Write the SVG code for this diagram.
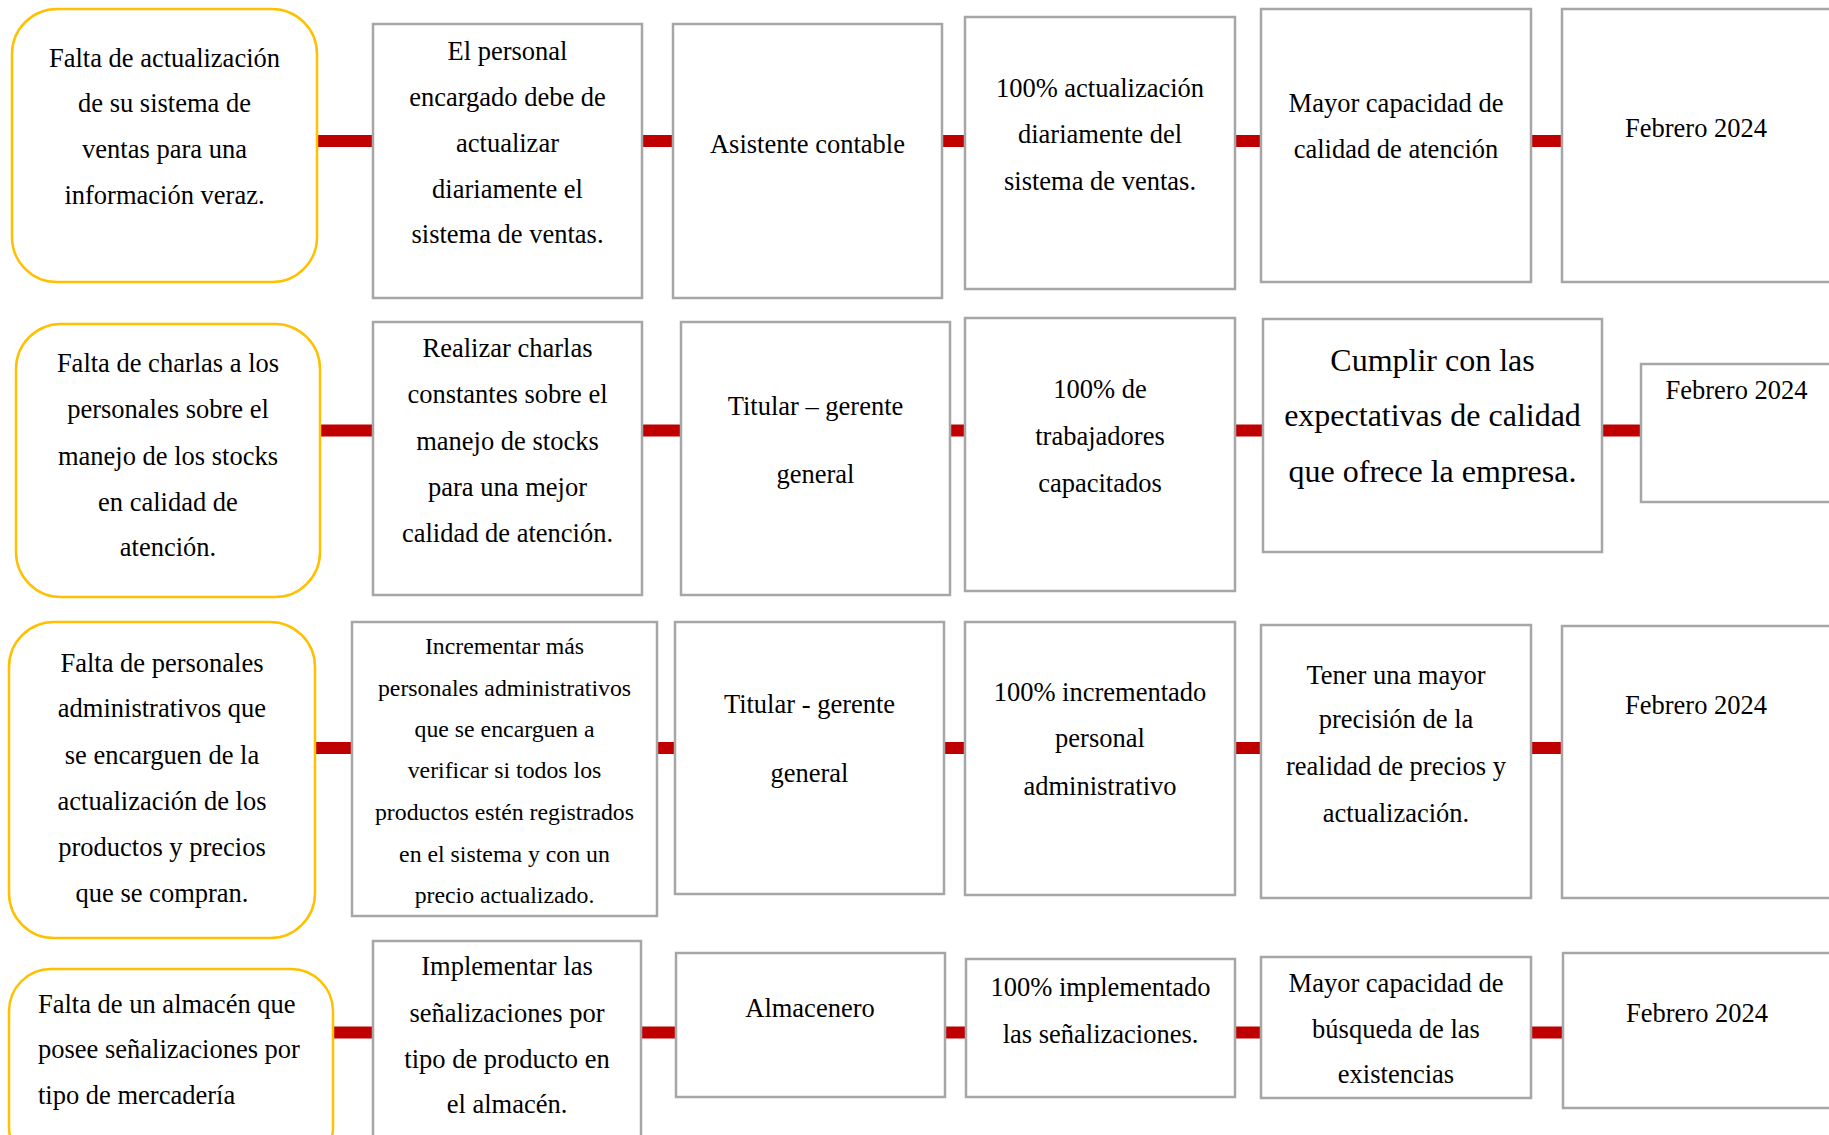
<svg xmlns="http://www.w3.org/2000/svg" width="1829" height="1135" viewBox="0 0 1829 1135">
<style>
.prob{fill:#fff;stroke:#FFC000;stroke-width:2.5}
.box{fill:#fff;stroke:#A6A6A6;stroke-width:2.5}
.conn{fill:#C00000}
text{font-family:"Liberation Serif","Times New Roman",serif;font-size:26.5px;fill:#000;text-anchor:middle}
.big{font-size:32px}
.small{font-size:23.8px}
.left{text-anchor:start}
</style>
<rect width="1829" height="1135" fill="#fff"/>
<g id="connectors">
<rect class="conn" x="317" y="135" width="56" height="12"/>
<rect class="conn" x="642" y="135" width="31" height="12"/>
<rect class="conn" x="942" y="135" width="23" height="12"/>
<rect class="conn" x="1235" y="135" width="26" height="12"/>
<rect class="conn" x="1531" y="135" width="31" height="12"/>
<rect class="conn" x="320" y="424.5" width="53" height="12"/>
<rect class="conn" x="642" y="424.5" width="39" height="12"/>
<rect class="conn" x="950" y="424.5" width="15" height="12"/>
<rect class="conn" x="1235" y="424.5" width="28" height="12"/>
<rect class="conn" x="1602" y="424.5" width="39" height="12"/>
<rect class="conn" x="315" y="742" width="37" height="12"/>
<rect class="conn" x="657" y="742" width="18" height="12"/>
<rect class="conn" x="944" y="742" width="21" height="12"/>
<rect class="conn" x="1235" y="742" width="26" height="12"/>
<rect class="conn" x="1531" y="742" width="31" height="12"/>
<rect class="conn" x="333" y="1026.5" width="40" height="12"/>
<rect class="conn" x="641" y="1026.5" width="35" height="12"/>
<rect class="conn" x="945" y="1026.5" width="21" height="12"/>
<rect class="conn" x="1235" y="1026.5" width="26" height="12"/>
<rect class="conn" x="1531" y="1026.5" width="32" height="12"/>
</g>
<!-- Row 1 -->
<g id="r1-problema">
<rect class="prob" x="12" y="9" width="305" height="273" rx="45" ry="45"/>
<text x="164.5" y="66.5">Falta de actualización<tspan x="164.5" y="112">de su sistema de</tspan><tspan x="164.5" y="158">ventas para una</tspan><tspan x="164.5" y="204">información veraz.</tspan></text>
</g>
<g id="r1-accion">
<rect class="box" x="373" y="24" width="269" height="274"/>
<text x="507.5" y="60">El personal<tspan x="507.5" y="106">encargado debe de</tspan><tspan x="507.5" y="152">actualizar</tspan><tspan x="507.5" y="198">diariamente el</tspan><tspan x="507.5" y="243">sistema de ventas.</tspan></text>
</g>
<g id="r1-responsable">
<rect class="box" x="673" y="24" width="269" height="274"/>
<text x="807.5" y="153">Asistente contable</text>
</g>
<g id="r1-indicador">
<rect class="box" x="965" y="17" width="270" height="272"/>
<text x="1100" y="97">100% actualización<tspan x="1100" y="143">diariamente del</tspan><tspan x="1100" y="190">sistema de ventas.</tspan></text>
</g>
<g id="r1-resultado">
<rect class="box" x="1261" y="9" width="270" height="273"/>
<text x="1396" y="112">Mayor capacidad de<tspan x="1396" y="158">calidad de atención</tspan></text>
</g>
<g id="r1-fecha">
<rect class="box" x="1562" y="9" width="270" height="273"/>
<text x="1696" y="137">Febrero 2024</text>
</g>
<!-- Row 2 -->
<g id="r2-problema">
<rect class="prob" x="16" y="324" width="304" height="273" rx="45" ry="45"/>
<text x="168" y="372">Falta de charlas a los<tspan x="168" y="418">personales sobre el</tspan><tspan x="168" y="465">manejo de los stocks</tspan><tspan x="168" y="511">en calidad de</tspan><tspan x="168" y="556">atención.</tspan></text>
</g>
<g id="r2-accion">
<rect class="box" x="373" y="322" width="269" height="273"/>
<text x="507.5" y="357">Realizar charlas<tspan x="507.5" y="403">constantes sobre el</tspan><tspan x="507.5" y="450">manejo de stocks</tspan><tspan x="507.5" y="496">para una mejor</tspan><tspan x="507.5" y="542">calidad de atención.</tspan></text>
</g>
<g id="r2-responsable">
<rect class="box" x="681" y="322" width="269" height="273"/>
<text x="815.5" y="415">Titular – gerente<tspan x="815.5" y="483">general</tspan></text>
</g>
<g id="r2-indicador">
<rect class="box" x="965" y="318" width="270" height="273"/>
<text x="1100" y="398">100% de<tspan x="1100" y="445">trabajadores</tspan><tspan x="1100" y="492">capacitados</tspan></text>
</g>
<g id="r2-resultado">
<rect class="box" x="1263" y="319" width="339" height="233"/>
<text class="big" x="1432.5" y="371">Cumplir con las<tspan x="1432.5" y="426">expectativas de calidad</tspan><tspan x="1432.5" y="482">que ofrece la empresa.</tspan></text>
</g>
<g id="r2-fecha">
<rect class="box" x="1641" y="364" width="191" height="138"/>
<text x="1736.5" y="399">Febrero 2024</text>
</g>
<!-- Row 3 -->
<g id="r3-problema">
<rect class="prob" x="9" y="622" width="306" height="316" rx="45" ry="45"/>
<text x="162" y="672">Falta de personales<tspan x="162" y="717">administrativos que</tspan><tspan x="162" y="764">se encarguen de la</tspan><tspan x="162" y="810">actualización de los</tspan><tspan x="162" y="856">productos y precios</tspan><tspan x="162" y="902">que se compran.</tspan></text>
</g>
<g id="r3-accion">
<rect class="box" x="352" y="622" width="305" height="294"/>
<text class="small" x="504.5" y="654">Incrementar más<tspan x="504.5" y="696">personales administrativos</tspan><tspan x="504.5" y="737">que se encarguen a</tspan><tspan x="504.5" y="778">verificar si todos los</tspan><tspan x="504.5" y="820">productos estén registrados</tspan><tspan x="504.5" y="862">en el sistema y con un</tspan><tspan x="504.5" y="903">precio actualizado.</tspan></text>
</g>
<g id="r3-responsable">
<rect class="box" x="675" y="622" width="269" height="272"/>
<text x="809.5" y="713">Titular - gerente<tspan x="809.5" y="782">general</tspan></text>
</g>
<g id="r3-indicador">
<rect class="box" x="965" y="622" width="270" height="273"/>
<text x="1100" y="701">100% incrementado<tspan x="1100" y="747">personal</tspan><tspan x="1100" y="795">administrativo</tspan></text>
</g>
<g id="r3-resultado">
<rect class="box" x="1261" y="625" width="270" height="273"/>
<text x="1396" y="684">Tener una mayor<tspan x="1396" y="728">precisión de la</tspan><tspan x="1396" y="775">realidad de precios y</tspan><tspan x="1396" y="822">actualización.</tspan></text>
</g>
<g id="r3-fecha">
<rect class="box" x="1562" y="626" width="270" height="272"/>
<text x="1696" y="714">Febrero 2024</text>
</g>
<!-- Row 4 -->
<g id="r4-problema">
<rect class="prob" x="9" y="969" width="324" height="200" rx="42" ry="42"/>
<text class="left" x="38" y="1013">Falta de un almacén que<tspan x="38" y="1058">posee señalizaciones por</tspan><tspan x="38" y="1104">tipo de mercadería</tspan></text>
</g>
<g id="r4-accion">
<rect class="box" x="373" y="941" width="268" height="220"/>
<text x="507" y="975">Implementar las<tspan x="507" y="1022">señalizaciones por</tspan><tspan x="507" y="1068">tipo de producto en</tspan><tspan x="507" y="1113">el almacén.</tspan></text>
</g>
<g id="r4-responsable">
<rect class="box" x="676" y="953" width="269" height="144"/>
<text x="810" y="1017">Almacenero</text>
</g>
<g id="r4-indicador">
<rect class="box" x="966" y="959" width="269" height="138"/>
<text x="1100.5" y="996">100% implementado<tspan x="1100.5" y="1043">las señalizaciones.</tspan></text>
</g>
<g id="r4-resultado">
<rect class="box" x="1261" y="957" width="270" height="141"/>
<text x="1396" y="992">Mayor capacidad de<tspan x="1396" y="1038">búsqueda de las</tspan><tspan x="1396" y="1083">existencias</tspan></text>
</g>
<g id="r4-fecha">
<rect class="box" x="1563" y="953" width="270" height="155"/>
<text x="1697" y="1022">Febrero 2024</text>
</g>
</svg>
